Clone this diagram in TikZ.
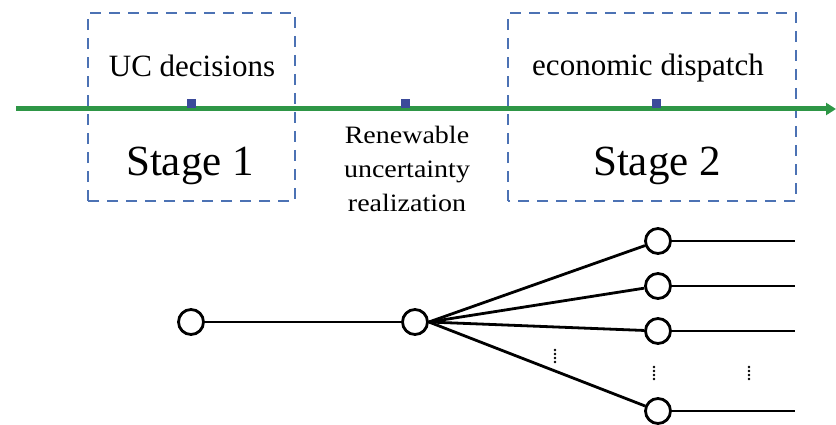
\documentclass[tikz,border=0pt]{standalone}
\usepackage{fontspec}
\setmainfont{Liberation Serif}
\usetikzlibrary{arrows.meta}
\definecolor{tlgreen}{HTML}{2E9646}
\definecolor{boxblue}{HTML}{4C72B4}
\definecolor{sqblue}{HTML}{3B4A9A}
\tikzset{
  stagebox/.style={draw=boxblue, line width=2.8pt, dash pattern=on 11pt off 8pt},
  marker/.style={fill=sqblue, draw=none, minimum size=9pt, inner sep=0pt},
  treenode/.style={circle, draw=black, line width=2.8pt, minimum size=25pt, inner sep=0pt, fill=white},
  edge/.style={line width=2.8pt, draw=black},
  smalllbl/.style={font=\fontsize{31}{34}\selectfont, anchor=base, inner sep=0pt},
  biglbl/.style={font=\fontsize{43}{46}\selectfont, anchor=base, inner sep=0pt},
  midlbl/.style={font=\fontsize{25}{34}\selectfont, align=center, anchor=base, inner sep=0pt},
  vdot/.style={fill=black, circle, inner sep=0pt, minimum size=2.8pt}
}
\begin{document}
\begin{tikzpicture}[x=1pt, y=1pt]
\useasboundingbox (0,0) rectangle (836,424);
% stage boxes
\draw[stagebox] (88,223) rectangle (295,411);
\draw[stagebox] (508,223) rectangle (796,411);
% timeline
\coordinate (tstart) at (16,315);
\coordinate (tend) at (836,315);
\draw[tlgreen, line width=5pt, -{Triangle[length=10pt,width=12pt]}] (tstart) -- (tend);
\node[marker] (m1) at (191,320) {};
\node[marker] (m2) at (405,320) {};
\node[marker] (m3) at (656,320) {};
% labels
\node[smalllbl] (uc) at (192,347) {UC decisions};
\node[biglbl] (s1) at (190,249) {Stage 1};
\node[smalllbl] (ed) at (648,348) {economic dispatch};
\node[biglbl] (s2) at (657,249) {Stage 2};
\node[midlbl] (ren) at (407,213) {\scalebox{1.12}[1]{Renewable}\\\scalebox{1.12}[1]{uncertainty}\\\scalebox{1.12}[1]{realization}};
% tree
\node[treenode] (c1) at (191,102) {};
\node[treenode] (c2) at (415,102) {};
\node[treenode] (r1) at (658,183) {};
\node[treenode] (r2) at (658,138) {};
\node[treenode] (r3) at (658,93) {};
\node[treenode] (r4) at (658,13) {};
\coordinate (e1) at (795,183);
\coordinate (e2) at (795,138);
\coordinate (e3) at (795,93);
\coordinate (e4) at (795,13);
\draw[edge] (c1) -- (c2);
\draw[edge] (c2.east) -- (r1);
\draw[edge] (c2.east) -- (r2);
\draw[edge] (c2.east) -- (r3);
\draw[edge] (c2.east) -- (r4);
\draw[edge] (r1) -- (e1);
\draw[edge] (r2) -- (e2);
\draw[edge] (r3) -- (e3);
\draw[edge] (r4) -- (e4);
% vertical dots
\foreach \px/\py in {555/68, 654/51, 749/51}{
  \foreach \d in {-6,-2,2,6}{
    \node[vdot] at (\px,\py+\d) {};
  }
}
\end{tikzpicture}
\end{document}
